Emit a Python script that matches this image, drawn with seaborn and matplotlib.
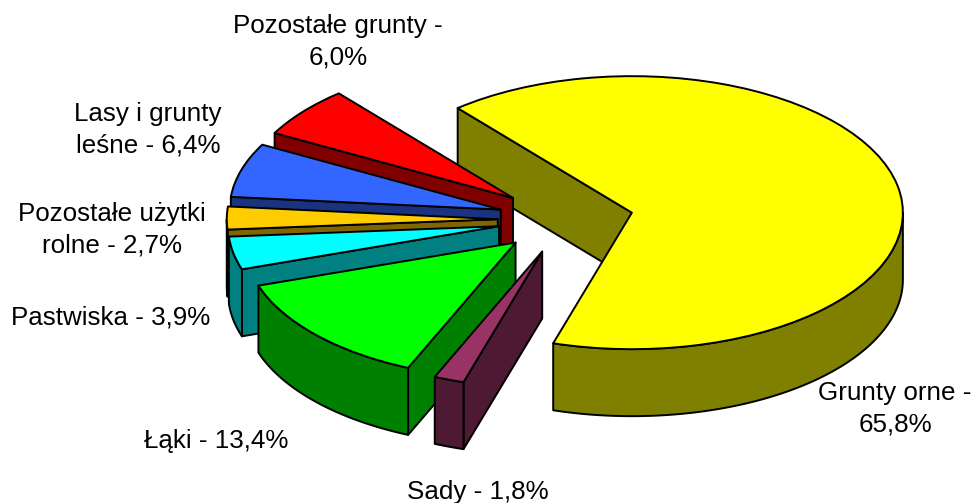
import numpy as np
import matplotlib
matplotlib.use("Agg")
import matplotlib.pyplot as plt
from matplotlib.patches import Polygon
import seaborn as sns

categories = ["Grunty orne -\n65,8%", "Sady - 1,8%", "Łąki - 13,4%", "Pastwiska - 3,9%",
              "Pozostałe użytki\nrolne - 2,7%", "Lasy i grunty\nleśne - 6,4%", "Pozostałe grunty -\n6,0%"]
values = [65.8, 1.8, 13.4, 3.9, 2.7, 6.4, 6.0]
top_colors = ["#FFFF00", "#993366", "#00FF00", "#00FFFF", "#FFCC00", "#3366FF", "#FF0000"]
side_colors = ["#808000", "#4D1933", "#008000", "#008080", "#806600", "#1A3380", "#800000"]
label_px = [(895, 409), (478, 492), (216, 441), (111, 318), (112, 230), (148, 130), (338, 42)]
paint_order = [0, 6, 5, 4, 3, 2, 1]

W, H = 974, 503
RX, RY, CX, CY, DEPTH = 271.0, 136.5, 565.5, 219.5, 67.0

sns.set_theme(style="white")
plt.rcParams["font.family"] = ["Liberation Sans", "DejaVu Sans"]

fig = plt.figure(figsize=(W / 100, H / 100), dpi=100, facecolor="white")
ax = fig.add_axes([0, 0, 1, 1])
wedges, _ = ax.pie(values, startangle=130, counterclock=False, colors=top_colors,
                   explode=[0.25] * len(values),
                   wedgeprops=dict(edgecolor="black", linewidth=1.4, joinstyle="round"))
ax.set_aspect("auto")
ax.set_xlim(-CX / RX, (W - CX) / RX)
ax.set_ylim((CY - H) / RY, CY / RY)
ax.axis("off")

d = DEPTH / RY
edge = dict(edgecolor="black", linewidth=1.4, joinstyle="round")

for rank, i in enumerate(paint_order):
    w = wedges[i]
    cx, cy = w.center
    t1, t2 = w.theta1, w.theta2
    z = 2 * rank + 2
    # radial cut faces that turn toward the viewer
    for ang, normal in ((t2, t2 + 90), (t1, t1 - 90)):
        if np.sin(np.radians(normal)) < 0:
            ex = cx + w.r * np.cos(np.radians(ang))
            ey = cy + w.r * np.sin(np.radians(ang))
            ax.add_patch(Polygon([(cx, cy), (ex, ey), (ex, ey - d), (cx, cy - d)],
                                 closed=True, facecolor=side_colors[i], zorder=z, **edge))
    # outer rim where it faces the viewer
    th = np.radians(np.linspace(t1, t2, 400))
    th = th[np.sin(th) <= 0]
    if th.size:
        xs = cx + w.r * np.cos(th)
        ys = cy + w.r * np.sin(th)
        pts = np.r_[np.c_[xs, ys], np.c_[xs, ys - d][::-1]]
        ax.add_patch(Polygon(pts, closed=True, facecolor=side_colors[i], zorder=z, **edge))
    w.set_zorder(z + 1)

for label, (px, py) in zip(categories, label_px):
    fig.text(px / W, 1 - py / H, label, ha="center", va="center", fontsize=18.7,
             color="black", linespacing=1.38)

fig.savefig("out.png", dpi=100, facecolor="white")
